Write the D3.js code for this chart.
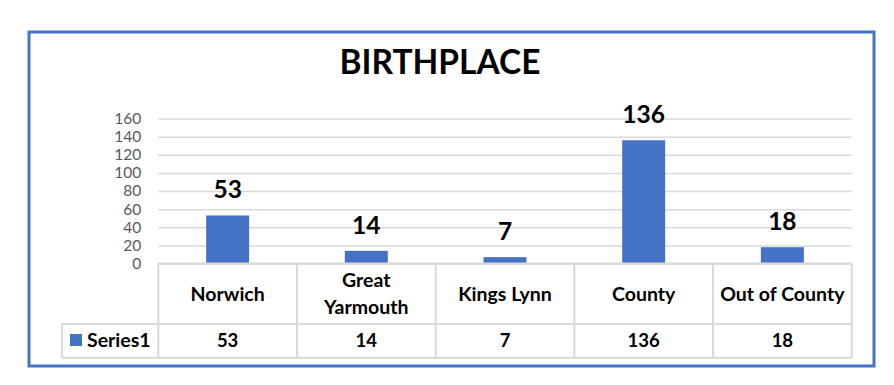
<!DOCTYPE html>
<html>
<head>
<meta charset="utf-8">
<script src="https://cdn.jsdelivr.net/npm/d3@7"></script>
<style>
  html, body { margin: 0; padding: 0; background: #fff; }
  svg { display: block; }
  text { font-family: Lato, "Noto Sans", sans-serif; }
</style>
</head>
<body>
<svg id="chart" width="894" height="385"></svg>
<script>
const title = "BIRTHPLACE";
const categories = ["Norwich", "Great Yarmouth", "Kings Lynn", "County", "Out of County"];
const categoryLines = [["Norwich"], ["Great", "Yarmouth"], ["Kings Lynn"], ["County"], ["Out of County"]];
const seriesName = "Series1";
const values = [53, 14, 7, 136, 18];
const yTicks = [0, 20, 40, 60, 80, 100, 120, 140, 160];

const blue = "#4472C4";
const grid = "#d9d9d9";

const svg = d3.select("#chart");

// outer border
svg.append("rect")
  .attr("x", 29).attr("y", 32)
  .attr("width", 845).attr("height", 334)
  .attr("fill", "#fff")
  .attr("stroke", blue).attr("stroke-width", 3);

// title
svg.append("text")
  .attr("x", 440).attr("y", 74)
  .attr("text-anchor", "middle")
  .attr("font-weight", "bold")
  .attr("font-size", 33.5)
  .attr("fill", "#000")
  .text(title);

const plotLeft = 158.3, plotRight = 851.7;
const y = d3.scaleLinear().domain([0, 160]).range([263.5, 118.5]);
const x = d3.scaleBand().domain(categories).range([plotLeft, plotRight]).padding(0);

// gridlines
const yAxis = d3.axisLeft(y).tickValues(yTicks).tickSize(-(plotRight - plotLeft)).tickPadding(17);
const gAxis = svg.append("g").attr("transform", `translate(${plotLeft},0)`).call(yAxis);
gAxis.select(".domain").remove();
gAxis.selectAll(".tick line").attr("stroke", grid).attr("stroke-width", 1.5);
gAxis.selectAll(".tick text")
  .attr("fill", "#595959")
  .attr("font-size", 15.5)
  .attr("font-family", "Lato, 'Noto Sans', sans-serif");

// bars
const barW = x.bandwidth() * 0.31;
svg.selectAll("rect.bar").data(values).enter().append("rect")
  .attr("class", "bar")
  .attr("x", (d, i) => x(categories[i]) + x.bandwidth() / 2 - barW / 2)
  .attr("y", d => y(d))
  .attr("width", barW)
  .attr("height", d => y(0) - y(d))
  .attr("fill", blue);

// data labels
svg.selectAll("text.lbl").data(values).enter().append("text")
  .attr("class", "lbl")
  .attr("x", (d, i) => x(categories[i]) + x.bandwidth() / 2)
  .attr("y", d => y(d) - 17)
  .attr("text-anchor", "middle")
  .attr("font-weight", "bold")
  .attr("font-size", 24.5)
  .attr("fill", "#000")
  .text(d => d);

// data table
const tTop = 263.5, tMid = 324, tBot = 357.7, legLeft = 62;
const tg = svg.append("g").attr("stroke", grid).attr("stroke-width", 2).attr("fill", "none");
tg.append("line").attr("x1", plotLeft).attr("x2", plotRight).attr("y1", tTop).attr("y2", tTop);
tg.append("line").attr("x1", legLeft).attr("x2", plotRight).attr("y1", tMid).attr("y2", tMid);
tg.append("line").attr("x1", legLeft).attr("x2", plotRight).attr("y1", tBot).attr("y2", tBot);
tg.append("line").attr("x1", legLeft).attr("x2", legLeft).attr("y1", tMid).attr("y2", tBot);
const bounds = categories.map(c => x(c)).concat([plotRight]);
tg.selectAll("line.v").data(bounds).enter().append("line")
  .attr("class", "v")
  .attr("x1", d => d).attr("x2", d => d)
  .attr("y1", tTop).attr("y2", tBot);

// category labels
const tableFont = 19.5;
const catCenter = (tTop + tMid) / 2;
categoryLines.forEach((lines, i) => {
  const cx = x(categories[i]) + x.bandwidth() / 2;
  const lh = 27;
  const t = svg.append("text")
    .attr("text-anchor", "middle")
    .attr("font-weight", "bold")
    .attr("font-size", tableFont)
    .attr("fill", "#000");
  lines.forEach((ln, j) => {
    t.append("tspan")
      .attr("x", cx)
      .attr("y", catCenter + 7 + (j - (lines.length - 1) / 2) * lh)
      .text(ln);
  });
});

// value row
const valBase = 346.5;
svg.selectAll("text.val").data(values).enter().append("text")
  .attr("class", "val")
  .attr("x", (d, i) => x(categories[i]) + x.bandwidth() / 2)
  .attr("y", valBase)
  .attr("text-anchor", "middle")
  .attr("font-weight", "bold")
  .attr("font-size", 18.5)
  .attr("fill", "#000")
  .text(d => d);

// legend key
svg.append("rect")
  .attr("x", 70).attr("y", 334)
  .attr("width", 12).attr("height", 12)
  .attr("fill", blue);
svg.append("text")
  .attr("x", 87).attr("y", valBase)
  .attr("font-weight", "bold")
  .attr("font-size", tableFont)
  .attr("fill", "#000")
  .text(seriesName);
</script>
</body>
</html>
